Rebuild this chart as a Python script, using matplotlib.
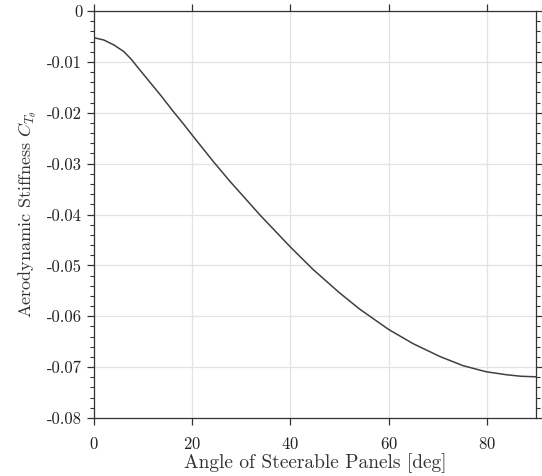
import numpy as np
import matplotlib
matplotlib.use('Agg')
import matplotlib.pyplot as plt
from matplotlib.ticker import MultipleLocator, FuncFormatter

# Values
angle_deg = [0, 2.0, 4.1, 6.1, 7.5, 10.2, 13.6, 16.1, 18.3, 20, 24.3, 27.7,
             33.8, 40, 44.6, 50.0, 54.1, 60, 65, 70.4, 75.1, 79.8, 84.0, 87, 90]
stiffness = [-0.00525, -0.0057, -0.0067, -0.0080, -0.0094, -0.0126, -0.0166,
             -0.0197, -0.0223, -0.0244, -0.0296, -0.0335, -0.0401, -0.0464,
             -0.0508, -0.0554, -0.0586, -0.0626, -0.0654, -0.0679, -0.0697,
             -0.0709, -0.0715, -0.0718, -0.0719]
x_ticks = [0, 20, 40, 60, 80]
y_ticks = [0, -0.01, -0.02, -0.03, -0.04, -0.05, -0.06, -0.07, -0.08]

plt.rcParams['font.family'] = 'serif'
plt.rcParams['font.serif'] = ['cmr10']
plt.rcParams['mathtext.fontset'] = 'cm'
plt.rcParams['axes.unicode_minus'] = False
plt.rcParams['axes.formatter.use_mathtext'] = True

dark = '#333333'
fig = plt.figure(figsize=(5.42, 4.76), dpi=100)
ax = fig.add_axes([94/542, 58/476, 442/542, 407/476])

ax.plot(angle_deg, stiffness, color='#404040', lw=1.1)

ax.set_xlim(0, 90)
ax.set_ylim(-0.08, 0)
ax.set_xticks(x_ticks)
ax.set_yticks(y_ticks)
ax.yaxis.set_minor_locator(MultipleLocator(0.002))
ax.yaxis.set_major_formatter(FuncFormatter(lambda v, p: '0' if abs(v) < 1e-9 else '%.2f' % v))

ax.grid(True, color='#e3e3e3', lw=0.9)
ax.set_axisbelow(True)
for s in ax.spines.values():
    s.set_color(dark)
    s.set_linewidth(0.9)

ax.tick_params(which='both', direction='out', colors=dark, labelcolor='#222222',
               top=True, right=True, labelsize=12)
ax.tick_params(which='major', length=5, width=0.9)
ax.tick_params(which='minor', length=3, width=0.8)
ax.tick_params(axis='x', pad=8)

ax.set_xlabel('Angle of Steerable Panels [deg]', fontsize=14, color='#333333', labelpad=1)
ax.set_ylabel(r'Aerodynamic Stiffness $C_{T_\theta}$', fontsize=13, color='#333333', labelpad=6)

fig.savefig('out.png', dpi=100)
